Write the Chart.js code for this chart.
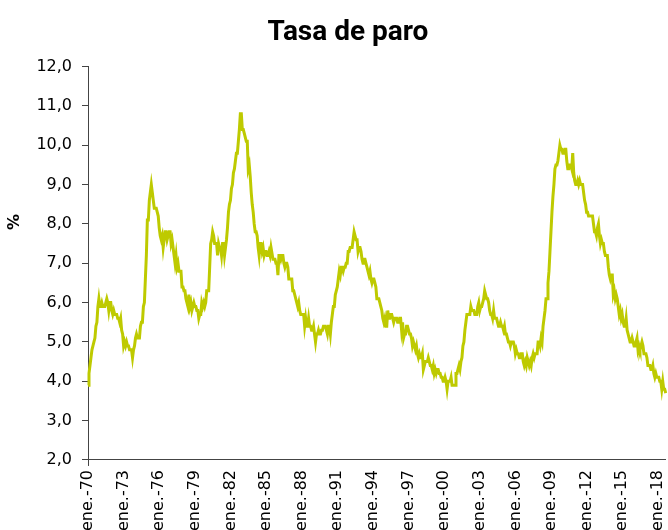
<!DOCTYPE html>
<html lang="es">
<head>
<meta charset="utf-8">
<title>Tasa de paro</title>
<script src="https://cdn.jsdelivr.net/npm/chart.js@4"></script>
<style>
  html, body { margin: 0; padding: 0; background: #fff; overflow: hidden; }
  #wrap { width: 668px; height: 530px; overflow: hidden; }
</style>
</head>
<body>
<div id="wrap"><canvas id="chartParo" width="681" height="535"></canvas></div>
<script>
// Datos mensuales (%), ene-1970 a sep-2018
const MESES = ['ene.', 'feb.', 'mar.', 'abr.', 'may.', 'jun.', 'jul.', 'ago.', 'sep.', 'oct.', 'nov.', 'dic.'];
const ANIO_INICIO = 1970;

const tasaParo = [
  3.9, 4.2, 4.4, 4.6, 4.8, 4.9, 5.0, 5.1, 5.4, 5.5, 5.9, 6.1, // 1970
  5.9, 5.9, 6.0, 5.9, 5.9, 5.9, 6.0, 6.1, 6.0, 5.8, 6.0, 6.0, // 1971
  5.8, 5.7, 5.8, 5.7, 5.7, 5.7, 5.6, 5.6, 5.5, 5.6, 5.3, 5.2, // 1972
  4.9, 5.0, 4.9, 5.0, 4.9, 4.9, 4.8, 4.8, 4.8, 4.6, 4.8, 4.9, // 1973
  5.1, 5.2, 5.1, 5.1, 5.1, 5.4, 5.5, 5.5, 5.9, 6.0, 6.6, 7.2, // 1974
  8.1, 8.1, 8.6, 8.8, 9.0, 8.8, 8.6, 8.4, 8.4, 8.4, 8.3, 8.2, // 1975
  7.9, 7.7, 7.6, 7.7, 7.4, 7.6, 7.8, 7.8, 7.6, 7.7, 7.8, 7.8, // 1976
  7.5, 7.6, 7.4, 7.2, 7.0, 7.2, 6.9, 7.0, 6.8, 6.8, 6.8, 6.4, // 1977
  6.4, 6.3, 6.3, 6.1, 6.0, 5.9, 6.2, 5.9, 6.0, 5.8, 5.9, 6.0, // 1978
  5.9, 5.9, 5.8, 5.8, 5.6, 5.7, 5.7, 6.0, 5.9, 6.0, 5.9, 6.0, // 1979
  6.3, 6.3, 6.3, 6.9, 7.5, 7.6, 7.8, 7.7, 7.5, 7.5, 7.5, 7.2, // 1980
  7.5, 7.4, 7.4, 7.2, 7.5, 7.5, 7.2, 7.4, 7.6, 7.9, 8.3, 8.5, // 1981
  8.6, 8.9, 9.0, 9.3, 9.4, 9.6, 9.8, 9.8, 10.1, 10.4, 10.8, 10.8, // 1982
  10.4, 10.4, 10.3, 10.2, 10.1, 10.1, 9.4, 9.5, 9.2, 8.8, 8.5, 8.3, // 1983
  8.0, 7.8, 7.8, 7.7, 7.4, 7.2, 7.5, 7.5, 7.3, 7.4, 7.2, 7.3, // 1984
  7.3, 7.2, 7.2, 7.3, 7.2, 7.4, 7.4, 7.1, 7.1, 7.1, 7.0, 7.0, // 1985
  6.7, 7.2, 7.2, 7.1, 7.2, 7.2, 7.0, 6.9, 7.0, 7.0, 6.9, 6.6, // 1986
  6.6, 6.6, 6.6, 6.3, 6.3, 6.2, 6.1, 6.0, 5.9, 6.0, 5.8, 5.7, // 1987
  5.7, 5.7, 5.7, 5.4, 5.6, 5.4, 5.4, 5.6, 5.4, 5.4, 5.3, 5.3, // 1988
  5.4, 5.2, 5.0, 5.2, 5.2, 5.3, 5.2, 5.2, 5.3, 5.3, 5.4, 5.4, // 1989
  5.4, 5.3, 5.2, 5.4, 5.4, 5.2, 5.5, 5.7, 5.9, 5.9, 6.2, 6.3, // 1990
  6.4, 6.6, 6.8, 6.7, 6.9, 6.9, 6.8, 6.9, 6.9, 7.0, 7.0, 7.3, // 1991
  7.3, 7.4, 7.4, 7.4, 7.6, 7.8, 7.7, 7.6, 7.6, 7.3, 7.4, 7.4, // 1992
  7.3, 7.1, 7.0, 7.1, 7.1, 7.0, 6.9, 6.8, 6.7, 6.8, 6.6, 6.5, // 1993
  6.6, 6.6, 6.5, 6.4, 6.1, 6.1, 6.1, 6.0, 5.9, 5.8, 5.6, 5.5, // 1994
  5.6, 5.4, 5.4, 5.8, 5.6, 5.6, 5.7, 5.7, 5.6, 5.5, 5.6, 5.6, // 1995
  5.6, 5.5, 5.5, 5.6, 5.6, 5.3, 5.5, 5.1, 5.2, 5.2, 5.4, 5.4, // 1996
  5.3, 5.2, 5.2, 5.1, 4.9, 5.0, 4.9, 4.8, 4.9, 4.7, 4.6, 4.7, // 1997
  4.6, 4.6, 4.7, 4.3, 4.4, 4.5, 4.5, 4.5, 4.6, 4.5, 4.4, 4.4, // 1998
  4.3, 4.4, 4.2, 4.3, 4.2, 4.3, 4.3, 4.2, 4.2, 4.1, 4.1, 4.0, // 1999
  4.0, 4.1, 4.0, 3.8, 4.0, 4.0, 4.0, 4.1, 3.9, 3.9, 3.9, 3.9, // 2000
  4.2, 4.2, 4.3, 4.4, 4.3, 4.5, 4.6, 4.9, 5.0, 5.3, 5.5, 5.7, // 2001
  5.7, 5.7, 5.7, 5.9, 5.8, 5.8, 5.8, 5.7, 5.7, 5.7, 5.9, 6.0, // 2002
  5.8, 5.9, 5.9, 6.0, 6.1, 6.3, 6.2, 6.1, 6.1, 6.0, 5.8, 5.7, // 2003
  5.7, 5.6, 5.8, 5.6, 5.6, 5.6, 5.5, 5.4, 5.4, 5.5, 5.4, 5.4, // 2004
  5.3, 5.4, 5.2, 5.2, 5.1, 5.0, 5.0, 4.9, 5.0, 5.0, 5.0, 4.9, // 2005
  4.7, 4.8, 4.7, 4.7, 4.6, 4.6, 4.7, 4.7, 4.5, 4.4, 4.5, 4.4, // 2006
  4.6, 4.5, 4.4, 4.5, 4.4, 4.6, 4.7, 4.6, 4.7, 4.7, 4.7, 5.0, // 2007
  5.0, 4.9, 5.1, 5.0, 5.4, 5.6, 5.8, 6.1, 6.1, 6.5, 6.8, 7.3, // 2008
  7.8, 8.3, 8.7, 9.0, 9.4, 9.5, 9.5, 9.6, 9.8, 10.0, 9.9, 9.9, // 2009
  9.8, 9.8, 9.9, 9.9, 9.6, 9.4, 9.4, 9.5, 9.5, 9.4, 9.8, 9.3, // 2010
  9.1, 9.0, 9.0, 9.1, 9.0, 9.1, 9.0, 9.0, 9.0, 8.8, 8.6, 8.5, // 2011
  8.3, 8.3, 8.2, 8.2, 8.2, 8.2, 8.2, 8.0, 7.8, 7.8, 7.7, 7.9, // 2012
  8.0, 7.7, 7.5, 7.6, 7.5, 7.5, 7.3, 7.2, 7.2, 7.2, 6.9, 6.7, // 2013
  6.6, 6.7, 6.7, 6.2, 6.3, 6.1, 6.2, 6.1, 5.9, 5.7, 5.8, 5.6, // 2014
  5.7, 5.5, 5.4, 5.4, 5.6, 5.3, 5.2, 5.1, 5.0, 5.0, 5.1, 5.0, // 2015
  4.9, 4.9, 5.0, 5.1, 4.8, 4.9, 4.8, 4.9, 5.0, 4.9, 4.7, 4.7, // 2016
  4.7, 4.6, 4.4, 4.4, 4.4, 4.3, 4.3, 4.4, 4.2, 4.1, 4.2, 4.1, // 2017
  4.1, 4.1, 4.0, 4.0, 3.8, 4.0, 3.8, 3.8, 3.7,                // 2018
];

// Etiquetas mensuales tipo 'ene.-70'
const etiquetas = tasaParo.map((_, i) => {
  const anio = ANIO_INICIO + Math.floor(i / 12);
  return `${MESES[i % 12]}-${String(anio).slice(-2)}`;
});

const Y_MIN = 2;
const Y_MAX = 12;
const PASO_X = 36; // una etiqueta cada 3 años

const COLOR_LINEA = '#BECA00';
const COLOR_EJE = '#444444';
const FUENTE = "'DejaVu Sans', sans-serif";

const PAD_IZQ = 15;
const EJE_Y_X = 88; // posición del eje vertical

// Título del eje Y ('%') en posición fija, algo por encima del centro
const yTitlePlugin = {
  id: 'yTitle',
  afterDraw(chart) {
    const { ctx, chartArea } = chart;
    const y = chartArea.top + (chartArea.bottom - chartArea.top) * 0.395;
    ctx.save();
    ctx.translate(15, y);
    ctx.rotate(-Math.PI / 2);
    ctx.font = `bold 16px ${FUENTE}`;
    ctx.fillStyle = '#000';
    ctx.textAlign = 'center';
    ctx.textBaseline = 'middle';
    ctx.fillText('%', 0, 0);
    ctx.restore();
  },
};

new Chart(document.getElementById('chartParo'), {
  type: 'line',
  data: {
    labels: etiquetas,
    datasets: [{
      label: 'Tasa de paro',
      data: tasaParo,
      borderColor: COLOR_LINEA,
      borderWidth: 3,
      pointRadius: 0,
      tension: 0,
      fill: false,
    }],
  },
  options: {
    responsive: false,
    animation: false,
    layout: { padding: { left: PAD_IZQ, right: 0, top: 0, bottom: 0 } },
    plugins: {
      legend: { display: false },
      tooltip: { enabled: false },
      title: {
        display: true,
        text: 'Tasa de paro',
        color: '#000',
        font: { family: 'Roboto, sans-serif', size: 28, weight: 'bold' },
        padding: { top: 16, bottom: 17 },
      },
    },
    scales: {
      x: {
        offset: false,
        grid: {
          drawOnChartArea: false,
          drawTicks: true,
          tickLength: 6,
          tickColor: ctx => (ctx.index % PASO_X === 0 ? COLOR_EJE : 'rgba(0,0,0,0)'),
        },
        border: { display: true, color: COLOR_EJE, width: 1 },
        ticks: {
          autoSkip: false,
          maxRotation: 90,
          minRotation: 90,
          padding: 4,
          color: '#000',
          font: { family: FUENTE, size: 16 },
          callback(val, i) {
            return i % PASO_X === 0 ? this.getLabelForValue(val) : null;
          },
        },
      },
      y: {
        min: Y_MIN,
        max: Y_MAX,
        afterFit(scale) {
          scale.width = EJE_Y_X - PAD_IZQ;
        },
        grid: {
          drawOnChartArea: false,
          drawTicks: true,
          tickLength: 6,
          tickColor: COLOR_EJE,
        },
        border: { display: true, color: COLOR_EJE, width: 1 },
        ticks: {
          stepSize: 1,
          padding: 10,
          color: '#000',
          font: { family: FUENTE, size: 16 },
          callback: v => v.toFixed(1).replace('.', ','),
        },
      },
    },
  },
  plugins: [yTitlePlugin],
});
</script>
</body>
</html>
